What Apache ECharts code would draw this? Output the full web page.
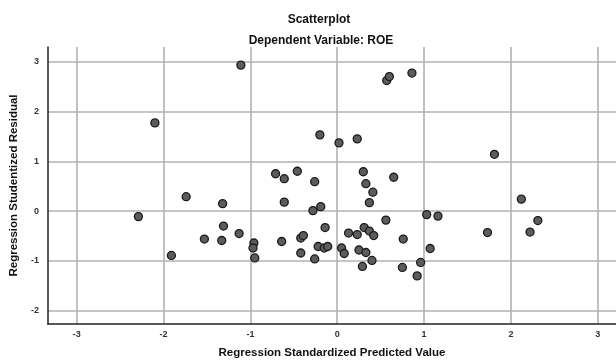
<!DOCTYPE html>
<html>
<head>
<meta charset="utf-8">
<script src="https://cdn.jsdelivr.net/npm/echarts@6/dist/echarts.min.js"></script>
<style>
  html, body { margin: 0; padding: 0; background: #fff; }
  #main { width: 616px; height: 364px; }
</style>
</head>
<body>
<div id="main"></div>
<script>
// standardized predicted value (x) and studentized residual (y)
var predicted = [
    -2.29, -1.74, -1.91, -1.32, -1.31, -1.53, -1.33, -1.13, -0.96, -0.97,
    -0.95, -0.71, -0.61, -0.46, -0.26, -0.61, -0.64, -0.42, -0.39, -0.42,
    -0.26, -0.28, -0.19, -0.14, -0.22, -0.15, -0.11, 0.30, 0.33, 0.41,
    0.37, 0.65, 0.56, 0.13, 0.23, 0.31, 0.37, 0.42, 0.76, 0.05,
    0.08, 0.25, 0.33, 0.40, 0.29, 0.75, 0.96, 0.92, 1.03, 1.16,
    1.07, 1.73, 2.12, 2.31, 2.22, -2.10, -1.11, -0.20, 0.02, 0.23,
    0.57, 0.60, 0.86, 1.81
];
var residual = [
    -0.11, 0.29, -0.89, 0.15, -0.30, -0.56, -0.59, -0.45, -0.64, -0.74,
    -0.94, 0.75, 0.65, 0.80, 0.59, 0.18, -0.61, -0.54, -0.49, -0.84,
    -0.96, 0.01, 0.09, -0.33, -0.71, -0.74, -0.71, 0.79, 0.55, 0.38,
    0.17, 0.68, -0.18, -0.44, -0.47, -0.33, -0.40, -0.49, -0.56, -0.74,
    -0.85, -0.78, -0.83, -0.99, -1.11, -1.13, -1.03, -1.30, -0.07, -0.10,
    -0.75, -0.43, 0.24, -0.19, -0.42, 1.77, 2.93, 1.53, 1.37, 1.45,
    2.62, 2.70, 2.77, 1.14
];

(function () {
    var points = predicted.map(function (x, i) { return [x, residual[i]]; });

    var myChart = echarts.init(document.getElementById('main'));
    var font = 'Liberation Sans, Arial, sans-serif';

    var option = {
        backgroundColor: '#fff',
        animation: false,
        title: [
            { text: 'Scatterplot', left: 314, top: 9, textAlign: 'center',
              textStyle: { fontFamily: font, fontSize: 12, fontWeight: 'bold', color: '#111' } },
            { text: 'Dependent Variable: ROE', left: 316, top: 30, textAlign: 'center',
              textStyle: { fontFamily: font, fontSize: 12, fontWeight: 'bold', color: '#111' } }
        ],
        grid: { left: 45, right: 0, top: 47, bottom: 38 },
        xAxis: {
            type: 'value',
            min: -3.332,
            max: 3.21,
            name: 'Regression Standardized Predicted Value',
            nameLocation: 'middle',
            nameGap: 23,
            nameTextStyle: { fontFamily: font, fontSize: 11.5, fontWeight: 'bold', color: '#111' },
            axisLine: { onZero: false, lineStyle: { color: '#222', width: 1.5 } },
            axisTick: { show: false },
            axisLabel: { showMinLabel: false, showMaxLabel: false, margin: 6,
                         fontFamily: font, fontSize: 9, fontWeight: 'bold', color: '#333' },
            splitLine: { show: true, showMinLine: false, showMaxLine: false,
                         lineStyle: { color: '#b2b2b2', width: 1.6 } }
        },
        yAxis: {
            type: 'value',
            min: -2.265,
            max: 3.293,
            name: 'Regression Studentized Residual',
            nameLocation: 'middle',
            nameGap: 19,
            nameTextStyle: { fontFamily: font, fontSize: 11.5, fontWeight: 'bold', color: '#111' },
            axisLine: { show: true, onZero: false, lineStyle: { color: '#222', width: 1.5 } },
            axisTick: { show: false },
            axisLabel: { showMinLabel: false, showMaxLabel: false, margin: 9,
                         fontFamily: font, fontSize: 9, fontWeight: 'bold', color: '#333' },
            splitLine: { show: true, showMinLine: false, showMaxLine: false,
                         lineStyle: { color: '#b2b2b2', width: 1.6 } }
        },
        series: [{
            type: 'scatter',
            data: points,
            symbol: 'circle',
            symbolSize: 8,
            itemStyle: { color: '#5c5c5c', borderColor: '#1a1a1a', borderWidth: 1.3, opacity: 1 }
        }]
    };

    myChart.setOption(option);
}());
</script>
</body>
</html>
